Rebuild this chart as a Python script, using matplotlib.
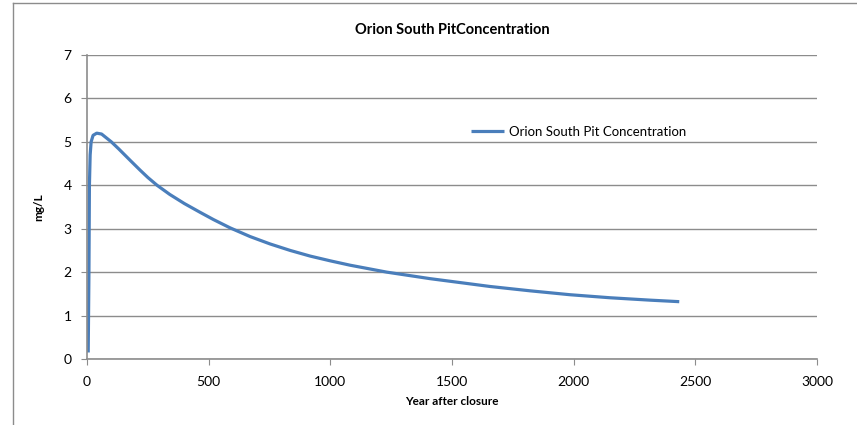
import numpy as np
import matplotlib.pyplot as plt
from matplotlib.lines import Line2D

plt.rcParams['font.family'] = ['Lato', 'DejaVu Sans']

# concentration
years = [5, 8, 10, 13, 17, 25, 40, 60, 100, 130, 180, 218, 250, 288, 340, 400,
         464, 520, 588, 670, 752, 835, 917, 1000, 1081, 1232, 1410, 1492, 1574,
         1656, 1821, 1985, 2150, 2314, 2434]
conc = [0.15, 2.0, 4.0, 4.7, 5.0, 5.15, 5.2, 5.18, 5.0, 4.84, 4.56, 4.35, 4.18,
        4.0, 3.79, 3.58, 3.38, 3.21, 3.02, 2.82, 2.65, 2.50, 2.37, 2.26, 2.16,
        2.0, 1.85, 1.79, 1.73, 1.67, 1.57, 1.48, 1.41, 1.355, 1.32]

xticks = [0, 500, 1000, 1500, 2000, 2500, 3000]
yticks = [0, 1, 2, 3, 4, 5, 6, 7]

fig = plt.figure(figsize=(8.57, 4.25), dpi=100)
ax = fig.add_axes([0.1015, 0.1553, 0.8518, 0.7153])

ax.plot(years, conc, color='#4A7EBB', lw=2.3, label='Orion South Pit Concentration',
        solid_capstyle='butt', solid_joinstyle='round')

ax.set_xlim(0, 3000)
ax.set_ylim(0, 7)
ax.set_xticks(xticks)
ax.set_yticks(yticks)
ax.grid(axis='y', color='#8c8c8c', lw=1)
ax.set_axisbelow(True)
for s in ['top', 'right']:
    ax.spines[s].set_visible(False)
for s in ['left', 'bottom']:
    ax.spines[s].set_color('#8c8c8c')
    ax.spines[s].set_linewidth(1.2)
ax.tick_params(colors='#8c8c8c', labelcolor='black', labelsize=10, length=4, direction='out')
ax.tick_params(axis='x', pad=8)
ax.tick_params(axis='y', pad=7)

ax.set_title('Orion South PitConcentration', fontsize=10.5, fontweight='bold', pad=15)
ax.set_xlabel('Year after closure', fontsize=8.5, fontweight='bold', labelpad=6)
ax.set_ylabel('mg/L', fontsize=8.5, fontweight='bold', labelpad=14)

ax.legend(loc='center left', bbox_to_anchor=(0.51, 0.747), frameon=False,
          fontsize=9.5, handlelength=2.5, handletextpad=0.4)

# chart area border (top and left edges visible)
fig.add_artist(Line2D([0.0152, 0.0152], [0, 0.993], color='#8c8c8c', lw=1))
fig.add_artist(Line2D([0.0152, 1], [0.993, 0.993], color='#8c8c8c', lw=1))

fig.savefig('out.png', dpi=100)
